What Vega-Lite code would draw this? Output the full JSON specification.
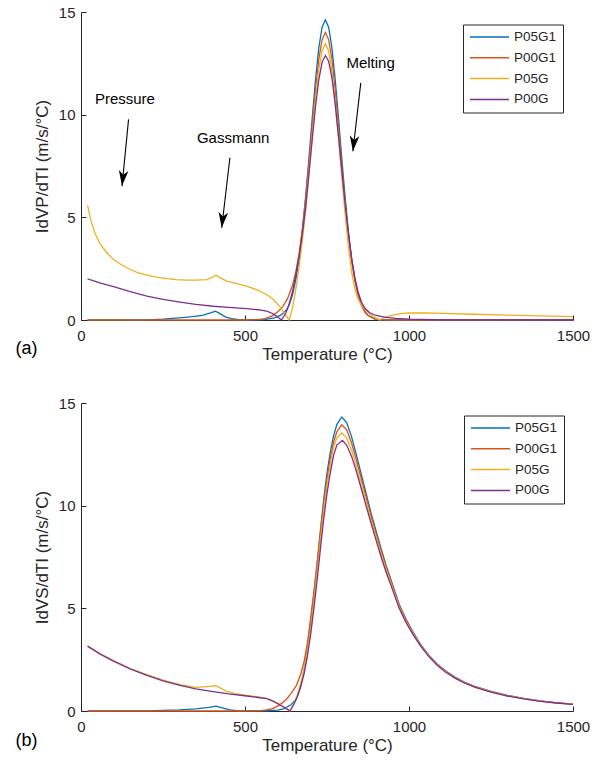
{
  "$schema": "https://vega.github.io/schema/vega-lite/v6.json",
  "background": "white",
  "padding": {"left": 15, "top": 5, "right": 5, "bottom": 5},
  "spacing": 83,
  "bounds": "flush",
  "resolve": {"legend": {"color": "independent"}},
  "config": {
    "font": "Liberation Sans",
    "view": {"stroke": null},
    "axis": {
      "grid": false,
      "domainColor": "#262626",
      "tickColor": "#262626",
      "labelColor": "#262626",
      "titleColor": "#262626",
      "labelFontSize": 15,
      "titleFontSize": 17,
      "titleFontWeight": "normal",
      "tickSize": -5,
      "domainWidth": 1,
      "tickWidth": 1,
      "labelFlush": false,
      "format": "d"
    },
    "axisX": {"labelPadding": 13, "titlePadding": 3},
    "axisY": {"labelPadding": 11, "titlePadding": 7},
    "legend": {
      "labelFontSize": 13.5,
      "labelColor": "#262626",
      "strokeColor": "#262626",
      "fillColor": "white",
      "padding": 6,
      "symbolType": "stroke",
      "symbolSize": 1521,
      "symbolStrokeWidth": 1.5,
      "clipHeight": 13,
      "rowPadding": 6.8,
      "labelOffset": 4,
      "cornerRadius": 0
    }
  },
  "datasets": {
    "curves": [
      {"p":"a","s":"P05G1","t":20,"v":0},{"p":"a","s":"P05G1","t":100,"v":0},{"p":"a","s":"P05G1","t":200,"v":0.01},{"p":"a","s":"P05G1","t":250,"v":0.04},{"p":"a","s":"P05G1","t":300,"v":0.1},{"p":"a","s":"P05G1","t":340,"v":0.16},{"p":"a","s":"P05G1","t":370,"v":0.23},{"p":"a","s":"P05G1","t":395,"v":0.35},{"p":"a","s":"P05G1","t":410,"v":0.43},{"p":"a","s":"P05G1","t":425,"v":0.3},{"p":"a","s":"P05G1","t":440,"v":0.15},{"p":"a","s":"P05G1","t":460,"v":0.06},{"p":"a","s":"P05G1","t":480,"v":0.02},{"p":"a","s":"P05G1","t":520,"v":0.005},{"p":"a","s":"P05G1","t":560,"v":0.02},{"p":"a","s":"P05G1","t":590,"v":0.1},{"p":"a","s":"P05G1","t":610,"v":0.25},{"p":"a","s":"P05G1","t":627,"v":0.5},{"p":"a","s":"P05G1","t":635,"v":0.74},{"p":"a","s":"P05G1","t":645,"v":1.24},{"p":"a","s":"P05G1","t":655,"v":1.98},{"p":"a","s":"P05G1","t":665,"v":3.01},{"p":"a","s":"P05G1","t":675,"v":4.36},{"p":"a","s":"P05G1","t":685,"v":6.01},{"p":"a","s":"P05G1","t":695,"v":7.89},{"p":"a","s":"P05G1","t":705,"v":9.85},{"p":"a","s":"P05G1","t":715,"v":11.71},{"p":"a","s":"P05G1","t":725,"v":13.25},{"p":"a","s":"P05G1","t":735,"v":14.26},{"p":"a","s":"P05G1","t":745,"v":14.62},{"p":"a","s":"P05G1","t":755,"v":14.26},{"p":"a","s":"P05G1","t":765,"v":13.25},{"p":"a","s":"P05G1","t":775,"v":11.71},{"p":"a","s":"P05G1","t":785,"v":9.85},{"p":"a","s":"P05G1","t":795,"v":7.89},{"p":"a","s":"P05G1","t":805,"v":6.01},{"p":"a","s":"P05G1","t":815,"v":4.36},{"p":"a","s":"P05G1","t":825,"v":3.01},{"p":"a","s":"P05G1","t":835,"v":1.98},{"p":"a","s":"P05G1","t":845,"v":1.24},{"p":"a","s":"P05G1","t":855,"v":0.74},{"p":"a","s":"P05G1","t":865,"v":0.42},{"p":"a","s":"P05G1","t":875,"v":0.23},{"p":"a","s":"P05G1","t":895,"v":0.06},{"p":"a","s":"P05G1","t":915,"v":0.01},{"p":"a","s":"P05G1","t":1000,"v":0},{"p":"a","s":"P05G1","t":1500,"v":0},

      {"p":"a","s":"P00G1","t":20,"v":0},{"p":"a","s":"P00G1","t":300,"v":0},{"p":"a","s":"P00G1","t":500,"v":0},{"p":"a","s":"P00G1","t":540,"v":0.02},{"p":"a","s":"P00G1","t":560,"v":0.07},{"p":"a","s":"P00G1","t":580,"v":0.18},{"p":"a","s":"P00G1","t":600,"v":0.4},{"p":"a","s":"P00G1","t":615,"v":0.65},{"p":"a","s":"P00G1","t":630,"v":1.05},{"p":"a","s":"P00G1","t":645,"v":1.7},{"p":"a","s":"P00G1","t":655,"v":2.35},{"p":"a","s":"P00G1","t":665,"v":3.25},{"p":"a","s":"P00G1","t":675,"v":4.45},{"p":"a","s":"P00G1","t":685,"v":5.95},{"p":"a","s":"P00G1","t":695,"v":7.65},{"p":"a","s":"P00G1","t":705,"v":9.45},{"p":"a","s":"P00G1","t":715,"v":11.2},{"p":"a","s":"P00G1","t":725,"v":12.7},{"p":"a","s":"P00G1","t":735,"v":13.65},{"p":"a","s":"P00G1","t":745,"v":14.0},{"p":"a","s":"P00G1","t":755,"v":13.65},{"p":"a","s":"P00G1","t":765,"v":12.7},{"p":"a","s":"P00G1","t":775,"v":11.2},{"p":"a","s":"P00G1","t":785,"v":9.43},{"p":"a","s":"P00G1","t":795,"v":7.55},{"p":"a","s":"P00G1","t":805,"v":5.76},{"p":"a","s":"P00G1","t":815,"v":4.18},{"p":"a","s":"P00G1","t":825,"v":2.88},{"p":"a","s":"P00G1","t":835,"v":1.9},{"p":"a","s":"P00G1","t":845,"v":1.19},{"p":"a","s":"P00G1","t":855,"v":0.71},{"p":"a","s":"P00G1","t":865,"v":0.4},{"p":"a","s":"P00G1","t":875,"v":0.22},{"p":"a","s":"P00G1","t":895,"v":0.06},{"p":"a","s":"P00G1","t":915,"v":0.01},{"p":"a","s":"P00G1","t":950,"v":0},{"p":"a","s":"P00G1","t":1500,"v":0},

      {"p":"a","s":"P05G","t":20,"v":5.58},{"p":"a","s":"P05G","t":30,"v":4.85},{"p":"a","s":"P05G","t":42,"v":4.25},{"p":"a","s":"P05G","t":59,"v":3.68},{"p":"a","s":"P05G","t":80,"v":3.25},{"p":"a","s":"P05G","t":99,"v":2.95},{"p":"a","s":"P05G","t":125,"v":2.68},{"p":"a","s":"P05G","t":150,"v":2.46},{"p":"a","s":"P05G","t":175,"v":2.3},{"p":"a","s":"P05G","t":201,"v":2.18},{"p":"a","s":"P05G","t":230,"v":2.09},{"p":"a","s":"P05G","t":262,"v":2.02},{"p":"a","s":"P05G","t":290,"v":1.97},{"p":"a","s":"P05G","t":322,"v":1.94},{"p":"a","s":"P05G","t":350,"v":1.94},{"p":"a","s":"P05G","t":383,"v":1.97},{"p":"a","s":"P05G","t":400,"v":2.08},{"p":"a","s":"P05G","t":411,"v":2.18},{"p":"a","s":"P05G","t":425,"v":2.05},{"p":"a","s":"P05G","t":444,"v":1.89},{"p":"a","s":"P05G","t":475,"v":1.77},{"p":"a","s":"P05G","t":505,"v":1.65},{"p":"a","s":"P05G","t":535,"v":1.48},{"p":"a","s":"P05G","t":566,"v":1.24},{"p":"a","s":"P05G","t":585,"v":1.02},{"p":"a","s":"P05G","t":596,"v":0.84},{"p":"a","s":"P05G","t":606,"v":0.65},{"p":"a","s":"P05G","t":616,"v":0.43},{"p":"a","s":"P05G","t":626,"v":0.2},{"p":"a","s":"P05G","t":635,"v":0},{"p":"a","s":"P05G","t":645,"v":0.6},{"p":"a","s":"P05G","t":655,"v":1.5},{"p":"a","s":"P05G","t":665,"v":2.6},{"p":"a","s":"P05G","t":675,"v":3.9},{"p":"a","s":"P05G","t":685,"v":5.4},{"p":"a","s":"P05G","t":695,"v":7.2},{"p":"a","s":"P05G","t":705,"v":9.0},{"p":"a","s":"P05G","t":715,"v":10.8},{"p":"a","s":"P05G","t":725,"v":12.2},{"p":"a","s":"P05G","t":735,"v":13.1},{"p":"a","s":"P05G","t":745,"v":13.45},{"p":"a","s":"P05G","t":755,"v":13.1},{"p":"a","s":"P05G","t":765,"v":12.1},{"p":"a","s":"P05G","t":775,"v":10.6},{"p":"a","s":"P05G","t":785,"v":8.9},{"p":"a","s":"P05G","t":795,"v":7.0},{"p":"a","s":"P05G","t":805,"v":5.2},{"p":"a","s":"P05G","t":815,"v":3.6},{"p":"a","s":"P05G","t":825,"v":2.35},{"p":"a","s":"P05G","t":835,"v":1.5},{"p":"a","s":"P05G","t":845,"v":1.0},{"p":"a","s":"P05G","t":860,"v":0.6},{"p":"a","s":"P05G","t":880,"v":0.3},{"p":"a","s":"P05G","t":895,"v":0.13},{"p":"a","s":"P05G","t":909,"v":0},{"p":"a","s":"P05G","t":925,"v":0.12},{"p":"a","s":"P05G","t":950,"v":0.24},{"p":"a","s":"P05G","t":975,"v":0.31},{"p":"a","s":"P05G","t":1000,"v":0.34},{"p":"a","s":"P05G","t":1050,"v":0.34},{"p":"a","s":"P05G","t":1100,"v":0.32},{"p":"a","s":"P05G","t":1200,"v":0.28},{"p":"a","s":"P05G","t":1300,"v":0.24},{"p":"a","s":"P05G","t":1400,"v":0.2},{"p":"a","s":"P05G","t":1500,"v":0.16},

      {"p":"a","s":"P00G","t":20,"v":2.0},{"p":"a","s":"P00G","t":60,"v":1.8},{"p":"a","s":"P00G","t":99,"v":1.62},{"p":"a","s":"P00G","t":150,"v":1.38},{"p":"a","s":"P00G","t":201,"v":1.16},{"p":"a","s":"P00G","t":250,"v":1.0},{"p":"a","s":"P00G","t":302,"v":0.87},{"p":"a","s":"P00G","t":350,"v":0.76},{"p":"a","s":"P00G","t":403,"v":0.67},{"p":"a","s":"P00G","t":450,"v":0.61},{"p":"a","s":"P00G","t":505,"v":0.55},{"p":"a","s":"P00G","t":540,"v":0.5},{"p":"a","s":"P00G","t":566,"v":0.43},{"p":"a","s":"P00G","t":582,"v":0.33},{"p":"a","s":"P00G","t":596,"v":0.19},{"p":"a","s":"P00G","t":611,"v":0},{"p":"a","s":"P00G","t":625,"v":0.35},{"p":"a","s":"P00G","t":635,"v":0.8},{"p":"a","s":"P00G","t":645,"v":1.4},{"p":"a","s":"P00G","t":655,"v":2.2},{"p":"a","s":"P00G","t":665,"v":3.1},{"p":"a","s":"P00G","t":675,"v":4.2},{"p":"a","s":"P00G","t":685,"v":5.5},{"p":"a","s":"P00G","t":695,"v":7.1},{"p":"a","s":"P00G","t":705,"v":8.8},{"p":"a","s":"P00G","t":715,"v":10.4},{"p":"a","s":"P00G","t":725,"v":11.7},{"p":"a","s":"P00G","t":735,"v":12.55},{"p":"a","s":"P00G","t":745,"v":12.88},{"p":"a","s":"P00G","t":755,"v":12.6},{"p":"a","s":"P00G","t":765,"v":11.8},{"p":"a","s":"P00G","t":775,"v":10.5},{"p":"a","s":"P00G","t":785,"v":8.95},{"p":"a","s":"P00G","t":795,"v":7.3},{"p":"a","s":"P00G","t":805,"v":5.7},{"p":"a","s":"P00G","t":815,"v":4.25},{"p":"a","s":"P00G","t":825,"v":3.0},{"p":"a","s":"P00G","t":835,"v":2.05},{"p":"a","s":"P00G","t":845,"v":1.35},{"p":"a","s":"P00G","t":855,"v":0.88},{"p":"a","s":"P00G","t":865,"v":0.58},{"p":"a","s":"P00G","t":880,"v":0.35},{"p":"a","s":"P00G","t":900,"v":0.22},{"p":"a","s":"P00G","t":930,"v":0.13},{"p":"a","s":"P00G","t":960,"v":0.08},{"p":"a","s":"P00G","t":1000,"v":0.04},{"p":"a","s":"P00G","t":1100,"v":0.01},{"p":"a","s":"P00G","t":1500,"v":0},

      {"p":"b","s":"P05G1","t":20,"v":0},{"p":"b","s":"P05G1","t":200,"v":0.01},{"p":"b","s":"P05G1","t":300,"v":0.05},{"p":"b","s":"P05G1","t":350,"v":0.1},{"p":"b","s":"P05G1","t":390,"v":0.18},{"p":"b","s":"P05G1","t":412,"v":0.24},{"p":"b","s":"P05G1","t":430,"v":0.15},{"p":"b","s":"P05G1","t":455,"v":0.05},{"p":"b","s":"P05G1","t":480,"v":0.01},{"p":"b","s":"P05G1","t":550,"v":0},{"p":"b","s":"P05G1","t":600,"v":0.04},{"p":"b","s":"P05G1","t":620,"v":0.12},{"p":"b","s":"P05G1","t":640,"v":0.3},{"p":"b","s":"P05G1","t":657,"v":0.6},{"p":"b","s":"P05G1","t":670,"v":1.2},{"p":"b","s":"P05G1","t":680,"v":2.0},{"p":"b","s":"P05G1","t":690,"v":3.0},{"p":"b","s":"P05G1","t":700,"v":4.3},{"p":"b","s":"P05G1","t":710,"v":5.7},{"p":"b","s":"P05G1","t":720,"v":7.2},{"p":"b","s":"P05G1","t":730,"v":8.8},{"p":"b","s":"P05G1","t":740,"v":10.3},{"p":"b","s":"P05G1","t":750,"v":11.6},{"p":"b","s":"P05G1","t":760,"v":12.6},{"p":"b","s":"P05G1","t":770,"v":13.4},{"p":"b","s":"P05G1","t":780,"v":13.95},{"p":"b","s":"P05G1","t":795,"v":14.32},{"p":"b","s":"P05G1","t":810,"v":14.05},{"p":"b","s":"P05G1","t":825,"v":13.35},{"p":"b","s":"P05G1","t":840,"v":12.45},{"p":"b","s":"P05G1","t":855,"v":11.5},{"p":"b","s":"P05G1","t":870,"v":10.55},{"p":"b","s":"P05G1","t":885,"v":9.6},{"p":"b","s":"P05G1","t":900,"v":8.75},{"p":"b","s":"P05G1","t":915,"v":7.9},{"p":"b","s":"P05G1","t":930,"v":7.1},{"p":"b","s":"P05G1","t":950,"v":6.15},{"p":"b","s":"P05G1","t":970,"v":5.2},{"p":"b","s":"P05G1","t":990,"v":4.5},{"p":"b","s":"P05G1","t":1010,"v":3.9},{"p":"b","s":"P05G1","t":1035,"v":3.25},{"p":"b","s":"P05G1","t":1060,"v":2.72},{"p":"b","s":"P05G1","t":1085,"v":2.3},{"p":"b","s":"P05G1","t":1110,"v":1.97},{"p":"b","s":"P05G1","t":1140,"v":1.65},{"p":"b","s":"P05G1","t":1170,"v":1.4},{"p":"b","s":"P05G1","t":1200,"v":1.2},{"p":"b","s":"P05G1","t":1250,"v":0.95},{"p":"b","s":"P05G1","t":1300,"v":0.76},{"p":"b","s":"P05G1","t":1350,"v":0.61},{"p":"b","s":"P05G1","t":1400,"v":0.49},{"p":"b","s":"P05G1","t":1450,"v":0.4},{"p":"b","s":"P05G1","t":1500,"v":0.33},

      {"p":"b","s":"P00G1","t":20,"v":0},{"p":"b","s":"P00G1","t":500,"v":0},{"p":"b","s":"P00G1","t":540,"v":0.01},{"p":"b","s":"P00G1","t":566,"v":0.05},{"p":"b","s":"P00G1","t":585,"v":0.12},{"p":"b","s":"P00G1","t":606,"v":0.3},{"p":"b","s":"P00G1","t":625,"v":0.55},{"p":"b","s":"P00G1","t":640,"v":0.85},{"p":"b","s":"P00G1","t":657,"v":1.25},{"p":"b","s":"P00G1","t":670,"v":1.8},{"p":"b","s":"P00G1","t":680,"v":2.4},{"p":"b","s":"P00G1","t":690,"v":3.3},{"p":"b","s":"P00G1","t":700,"v":4.5},{"p":"b","s":"P00G1","t":710,"v":5.8},{"p":"b","s":"P00G1","t":720,"v":7.2},{"p":"b","s":"P00G1","t":730,"v":8.7},{"p":"b","s":"P00G1","t":740,"v":10.1},{"p":"b","s":"P00G1","t":750,"v":11.3},{"p":"b","s":"P00G1","t":760,"v":12.3},{"p":"b","s":"P00G1","t":770,"v":13.1},{"p":"b","s":"P00G1","t":780,"v":13.6},{"p":"b","s":"P00G1","t":795,"v":13.94},{"p":"b","s":"P00G1","t":810,"v":13.7},{"p":"b","s":"P00G1","t":825,"v":13.05},{"p":"b","s":"P00G1","t":840,"v":12.2},{"p":"b","s":"P00G1","t":855,"v":11.3},{"p":"b","s":"P00G1","t":870,"v":10.38},{"p":"b","s":"P00G1","t":885,"v":9.45},{"p":"b","s":"P00G1","t":900,"v":8.62},{"p":"b","s":"P00G1","t":915,"v":7.8},{"p":"b","s":"P00G1","t":930,"v":7.02},{"p":"b","s":"P00G1","t":950,"v":6.1},{"p":"b","s":"P00G1","t":970,"v":5.15},{"p":"b","s":"P00G1","t":990,"v":4.46},{"p":"b","s":"P00G1","t":1010,"v":3.87},{"p":"b","s":"P00G1","t":1035,"v":3.22},{"p":"b","s":"P00G1","t":1060,"v":2.7},{"p":"b","s":"P00G1","t":1085,"v":2.28},{"p":"b","s":"P00G1","t":1110,"v":1.95},{"p":"b","s":"P00G1","t":1140,"v":1.63},{"p":"b","s":"P00G1","t":1170,"v":1.39},{"p":"b","s":"P00G1","t":1200,"v":1.19},{"p":"b","s":"P00G1","t":1250,"v":0.94},{"p":"b","s":"P00G1","t":1300,"v":0.75},{"p":"b","s":"P00G1","t":1350,"v":0.6},{"p":"b","s":"P00G1","t":1400,"v":0.49},{"p":"b","s":"P00G1","t":1450,"v":0.4},{"p":"b","s":"P00G1","t":1500,"v":0.33},

      {"p":"b","s":"P05G","t":20,"v":3.16},{"p":"b","s":"P05G","t":60,"v":2.77},{"p":"b","s":"P05G","t":99,"v":2.45},{"p":"b","s":"P05G","t":150,"v":2.07},{"p":"b","s":"P05G","t":201,"v":1.77},{"p":"b","s":"P05G","t":250,"v":1.5},{"p":"b","s":"P05G","t":302,"v":1.28},{"p":"b","s":"P05G","t":350,"v":1.15},{"p":"b","s":"P05G","t":383,"v":1.19},{"p":"b","s":"P05G","t":412,"v":1.23},{"p":"b","s":"P05G","t":430,"v":1.08},{"p":"b","s":"P05G","t":445,"v":0.95},{"p":"b","s":"P05G","t":470,"v":0.85},{"p":"b","s":"P05G","t":505,"v":0.76},{"p":"b","s":"P05G","t":535,"v":0.7},{"p":"b","s":"P05G","t":566,"v":0.62},{"p":"b","s":"P05G","t":585,"v":0.5},{"p":"b","s":"P05G","t":603,"v":0.35},{"p":"b","s":"P05G","t":620,"v":0.18},{"p":"b","s":"P05G","t":637,"v":0},{"p":"b","s":"P05G","t":650,"v":0.4},{"p":"b","s":"P05G","t":660,"v":0.8},{"p":"b","s":"P05G","t":670,"v":1.35},{"p":"b","s":"P05G","t":680,"v":2.0},{"p":"b","s":"P05G","t":690,"v":2.9},{"p":"b","s":"P05G","t":700,"v":4.0},{"p":"b","s":"P05G","t":710,"v":5.35},{"p":"b","s":"P05G","t":720,"v":6.8},{"p":"b","s":"P05G","t":730,"v":8.3},{"p":"b","s":"P05G","t":740,"v":9.75},{"p":"b","s":"P05G","t":750,"v":11.0},{"p":"b","s":"P05G","t":760,"v":12.0},{"p":"b","s":"P05G","t":770,"v":12.85},{"p":"b","s":"P05G","t":780,"v":13.3},{"p":"b","s":"P05G","t":795,"v":13.54},{"p":"b","s":"P05G","t":810,"v":13.3},{"p":"b","s":"P05G","t":825,"v":12.7},{"p":"b","s":"P05G","t":840,"v":11.9},{"p":"b","s":"P05G","t":855,"v":11.05},{"p":"b","s":"P05G","t":870,"v":10.15},{"p":"b","s":"P05G","t":885,"v":9.25},{"p":"b","s":"P05G","t":900,"v":8.45},{"p":"b","s":"P05G","t":915,"v":7.65},{"p":"b","s":"P05G","t":930,"v":6.9},{"p":"b","s":"P05G","t":950,"v":6.0},{"p":"b","s":"P05G","t":970,"v":5.08},{"p":"b","s":"P05G","t":990,"v":4.4},{"p":"b","s":"P05G","t":1010,"v":3.83},{"p":"b","s":"P05G","t":1035,"v":3.2},{"p":"b","s":"P05G","t":1060,"v":2.68},{"p":"b","s":"P05G","t":1085,"v":2.26},{"p":"b","s":"P05G","t":1110,"v":1.93},{"p":"b","s":"P05G","t":1140,"v":1.62},{"p":"b","s":"P05G","t":1170,"v":1.38},{"p":"b","s":"P05G","t":1200,"v":1.18},{"p":"b","s":"P05G","t":1250,"v":0.93},{"p":"b","s":"P05G","t":1300,"v":0.74},{"p":"b","s":"P05G","t":1350,"v":0.6},{"p":"b","s":"P05G","t":1400,"v":0.48},{"p":"b","s":"P05G","t":1450,"v":0.4},{"p":"b","s":"P05G","t":1500,"v":0.33},

      {"p":"b","s":"P00G","t":20,"v":3.16},{"p":"b","s":"P00G","t":60,"v":2.76},{"p":"b","s":"P00G","t":99,"v":2.43},{"p":"b","s":"P00G","t":150,"v":2.05},{"p":"b","s":"P00G","t":201,"v":1.74},{"p":"b","s":"P00G","t":250,"v":1.47},{"p":"b","s":"P00G","t":302,"v":1.25},{"p":"b","s":"P00G","t":350,"v":1.08},{"p":"b","s":"P00G","t":403,"v":0.94},{"p":"b","s":"P00G","t":450,"v":0.83},{"p":"b","s":"P00G","t":505,"v":0.73},{"p":"b","s":"P00G","t":535,"v":0.67},{"p":"b","s":"P00G","t":566,"v":0.6},{"p":"b","s":"P00G","t":585,"v":0.48},{"p":"b","s":"P00G","t":603,"v":0.33},{"p":"b","s":"P00G","t":620,"v":0.17},{"p":"b","s":"P00G","t":637,"v":0},{"p":"b","s":"P00G","t":650,"v":0.35},{"p":"b","s":"P00G","t":660,"v":0.72},{"p":"b","s":"P00G","t":670,"v":1.2},{"p":"b","s":"P00G","t":680,"v":1.8},{"p":"b","s":"P00G","t":690,"v":2.65},{"p":"b","s":"P00G","t":700,"v":3.7},{"p":"b","s":"P00G","t":710,"v":5.0},{"p":"b","s":"P00G","t":720,"v":6.4},{"p":"b","s":"P00G","t":730,"v":7.9},{"p":"b","s":"P00G","t":740,"v":9.35},{"p":"b","s":"P00G","t":750,"v":10.6},{"p":"b","s":"P00G","t":760,"v":11.6},{"p":"b","s":"P00G","t":770,"v":12.45},{"p":"b","s":"P00G","t":780,"v":12.95},{"p":"b","s":"P00G","t":797,"v":13.18},{"p":"b","s":"P00G","t":810,"v":12.95},{"p":"b","s":"P00G","t":825,"v":12.4},{"p":"b","s":"P00G","t":840,"v":11.65},{"p":"b","s":"P00G","t":855,"v":10.8},{"p":"b","s":"P00G","t":870,"v":9.95},{"p":"b","s":"P00G","t":885,"v":9.1},{"p":"b","s":"P00G","t":900,"v":8.3},{"p":"b","s":"P00G","t":915,"v":7.5},{"p":"b","s":"P00G","t":930,"v":6.77},{"p":"b","s":"P00G","t":950,"v":5.9},{"p":"b","s":"P00G","t":970,"v":5.0},{"p":"b","s":"P00G","t":990,"v":4.34},{"p":"b","s":"P00G","t":1010,"v":3.78},{"p":"b","s":"P00G","t":1035,"v":3.17},{"p":"b","s":"P00G","t":1060,"v":2.66},{"p":"b","s":"P00G","t":1085,"v":2.24},{"p":"b","s":"P00G","t":1110,"v":1.91},{"p":"b","s":"P00G","t":1140,"v":1.6},{"p":"b","s":"P00G","t":1170,"v":1.36},{"p":"b","s":"P00G","t":1200,"v":1.16},{"p":"b","s":"P00G","t":1250,"v":0.92},{"p":"b","s":"P00G","t":1300,"v":0.73},{"p":"b","s":"P00G","t":1350,"v":0.59},{"p":"b","s":"P00G","t":1400,"v":0.47},{"p":"b","s":"P00G","t":1450,"v":0.39},{"p":"b","s":"P00G","t":1500,"v":0.32}
    ],
    "notes": [
      {"label": "Pressure", "t": 134, "v": 10.74},
      {"label": "Gassmann", "t": 464, "v": 8.87},
      {"label": "Melting", "t": 883, "v": 12.53}
    ],
    "arrows": [
      {"t": 145, "v": 9.77, "t2": 125, "v2": 6.52},
      {"t": 454, "v": 7.9, "t2": 429, "v2": 4.49},
      {"t": 853, "v": 11.55, "t2": 829, "v2": 8.22}
    ],
    "tags": [
      {"p": "a", "label": "(a)", "t": -200, "v": -1.39},
      {"p": "b", "label": "(b)", "t": -200, "v": -1.46}
    ]
  },
  "vconcat": [
    {
      "width": 492,
      "height": 308,
      "encoding": {
        "x": {"field": "t", "type": "quantitative", "title": "Temperature (°C)", "scale": {"domain": [0, 1500], "nice": false}, "axis": {"values": [0, 500, 1000, 1500]}},
        "y": {"field": "v", "type": "quantitative", "title": "IdVP/dTI (m/s/°C)", "scale": {"domain": [0, 15], "nice": false}, "axis": {"values": [0, 5, 10, 15]}}
      },
      "layer": [
        {
          "data": {"name": "curves"},
          "transform": [{"filter": "datum.p == 'a'"}],
          "mark": {"type": "line", "strokeWidth": 1.3},
          "encoding": {
            "color": {"field": "s", "type": "nominal", "sort": null,
              "scale": {"domain": ["P05G1", "P00G1", "P05G", "P00G"], "range": ["#0072BD", "#D95319", "#EDB120", "#7E2F8E"]},
              "legend": {"orient": "none", "legendX": 382, "legendY": 12.5, "title": null}}
          }
        },
        {
          "data": {"name": "arrows"},
          "mark": {"type": "rule", "color": "black", "strokeWidth": 1.1},
          "encoding": {
            "x2": {"field": "t2"},
            "y2": {"field": "v2"}
          }
        },
        {
          "data": {"name": "arrows"},
          "mark": {"type": "point", "shape": "M0,0 L-0.8,-2.6 L0,-1.9 L0.8,-2.6 Z", "filled": true, "opacity": 1, "size": 144, "color": "black", "angle": 6},
          "encoding": {
            "x": {"field": "t2", "type": "quantitative", "title": "Temperature (°C)"},
            "y": {"field": "v2", "type": "quantitative", "title": "IdVP/dTI (m/s/°C)"}
          }
        },
        {
          "data": {"name": "notes"},
          "mark": {"type": "text", "fontSize": 15, "color": "black", "align": "center", "baseline": "middle"},
          "encoding": {"text": {"field": "label"}}
        },
        {
          "data": {"name": "tags"},
          "transform": [{"filter": "datum.p == 'a'"}],
          "mark": {"type": "text", "fontSize": 18, "color": "black", "align": "left", "baseline": "middle"},
          "encoding": {"text": {"field": "label"}}
        }
      ]
    },
    {
      "width": 492,
      "height": 308,
      "encoding": {
        "x": {"field": "t", "type": "quantitative", "title": "Temperature (°C)", "scale": {"domain": [0, 1500], "nice": false}, "axis": {"values": [0, 500, 1000, 1500]}},
        "y": {"field": "v", "type": "quantitative", "title": "IdVS/dTI (m/s/°C)", "scale": {"domain": [0, 15], "nice": false}, "axis": {"values": [0, 5, 10, 15]}}
      },
      "layer": [
        {
          "data": {"name": "curves"},
          "transform": [{"filter": "datum.p == 'b'"}],
          "mark": {"type": "line", "strokeWidth": 1.3},
          "encoding": {
            "color": {"field": "s", "type": "nominal", "sort": null,
              "scale": {"domain": ["P05G1", "P00G1", "P05G", "P00G"], "range": ["#0072BD", "#D95319", "#EDB120", "#7E2F8E"]},
              "legend": {"orient": "none", "legendX": 383, "legendY": 12.5, "title": null}}
          }
        },
        {
          "data": {"name": "tags"},
          "transform": [{"filter": "datum.p == 'b'"}],
          "mark": {"type": "text", "fontSize": 18, "color": "black", "align": "left", "baseline": "middle"},
          "encoding": {"text": {"field": "label"}}
        }
      ]
    }
  ]
}
